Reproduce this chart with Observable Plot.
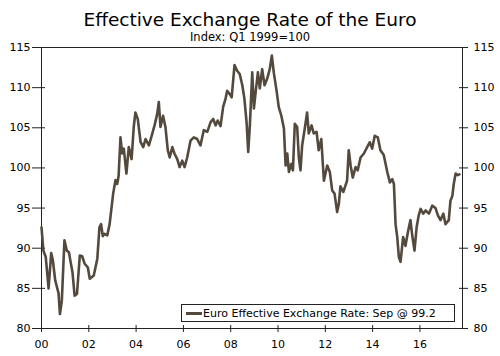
<!DOCTYPE html>
<html>
<head>
<meta charset="utf-8">
<script src="https://cdn.jsdelivr.net/npm/d3@7"></script>
<script src="https://cdn.jsdelivr.net/npm/@observablehq/plot@0.6"></script>
<style>
  html, body { margin: 0; padding: 0; background: #fff; }
  #wrap { position: relative; width: 500px; height: 356px; font-family: "DejaVu Sans", Verdana, sans-serif; color: #000; }
  #head { height: 40px; text-align: center; overflow: visible; }
  #title { font-size: 18.5px; line-height: 18.5px; padding-top: 11px; }
  #subtitle { font-size: 11.5px; line-height: 11.5px; margin-top: 2px; }
  #chart svg { background: transparent; }
  #legend { position: absolute; left: 181px; top: 304px; width: 272px; height: 16px; border: 1px solid #222; background: #fff;
            display: flex; align-items: center; font-size: 11px; white-space: nowrap; }
  #legend .sw { display: inline-block; width: 16px; height: 3px; margin-left: 4px; margin-right: 1px; }
</style>
</head>
<body>
<div id="wrap">
  <div id="head"><div id="title"></div><div id="subtitle"></div></div>
  <div id="chart"></div>
  <div id="legend"><span class="sw"></span><span class="lt"></span></div>
</div>
<script>
const titleText = "Effective Exchange Rate of the Euro";
const subtitleText = "Index: Q1 1999=100";
const seriesName = "Euro Effective Exchange Rate: Sep @ 99.2";
const lineColor = "#54493d";

const years = [2000.00,2000.08,2000.18,2000.30,2000.41,2000.48,2000.58,2000.72,2000.78,2000.86,
2000.97,2001.07,2001.16,2001.23,2001.31,2001.40,2001.50,2001.62,2001.72,2001.82,
2001.96,2002.04,2002.21,2002.36,2002.45,2002.52,2002.59,2002.66,2002.78,2002.88,
2003.03,2003.13,2003.20,2003.26,2003.34,2003.41,2003.48,2003.59,2003.69,2003.81,
2003.90,2003.97,2004.07,2004.19,2004.30,2004.40,2004.54,2004.64,2004.78,2004.89,
2004.96,2005.03,2005.14,2005.24,2005.34,2005.42,2005.53,2005.62,2005.74,2005.84,
2005.95,2006.05,2006.16,2006.30,2006.44,2006.58,2006.72,2006.86,2007.01,2007.15,
2007.26,2007.36,2007.45,2007.57,2007.68,2007.78,2007.85,2007.96,2008.04,2008.11,
2008.16,2008.27,2008.38,2008.49,2008.58,2008.67,2008.74,2008.81,2008.91,2008.98,
2009.06,2009.15,2009.23,2009.33,2009.43,2009.54,2009.65,2009.74,2009.82,2009.94,
2010.03,2010.14,2010.25,2010.32,2010.39,2010.46,2010.56,2010.63,2010.71,2010.81,
2010.88,2010.95,2011.02,2011.12,2011.23,2011.30,2011.42,2011.51,2011.63,2011.72,
2011.83,2011.94,2012.08,2012.19,2012.29,2012.39,2012.50,2012.57,2012.64,2012.76,
2012.85,2012.92,2012.99,2013.07,2013.16,2013.28,2013.37,2013.49,2013.63,2013.77,
2013.88,2013.98,2014.09,2014.22,2014.33,2014.47,2014.62,2014.73,2014.83,2014.90,
2014.97,2015.04,2015.11,2015.18,2015.29,2015.39,2015.49,2015.60,2015.67,2015.77,
2015.86,2015.95,2016.03,2016.14,2016.24,2016.38,2016.52,2016.66,2016.76,2016.87,
2016.99,2017.08,2017.22,2017.29,2017.37,2017.43,2017.51,2017.60,2017.67];

const values = [92.6,89.7,88.9,85.0,89.4,88.5,86.0,84.4,81.8,83.5,
91.0,89.7,89.5,88.3,87.0,84.1,84.3,89.1,89.0,88.1,
87.6,86.2,86.6,88.7,92.6,93.0,91.5,91.8,91.6,93.0,
96.8,98.5,98.0,99.0,103.8,101.8,102.4,99.3,102.6,101.1,
105.1,106.9,106.1,103.2,102.6,103.6,102.8,103.8,105.3,106.7,
108.2,105.1,106.5,105.1,102.2,101.3,102.6,101.8,101.1,100.1,
100.9,100.1,101.3,103.4,103.8,103.6,102.8,104.7,104.5,105.7,
106.1,105.3,105.9,105.2,107.6,108.6,109.6,109.2,108.8,111.1,
112.8,112.1,111.7,110.3,108.6,105.7,102.0,105.3,111.9,107.4,
109.6,111.9,109.9,112.3,110.3,111.1,112.3,114.0,111.9,109.6,
107.6,106.5,104.9,100.3,101.8,99.5,100.5,99.7,105.5,105.1,
101.3,99.7,102.8,104.7,106.9,104.3,105.3,104.3,104.5,102.2,
103.6,98.4,100.3,99.5,97.2,96.8,94.5,95.5,97.7,97.0,
97.8,98.4,102.2,100.3,98.8,100.1,99.7,101.3,101.8,102.6,
103.2,102.4,104.0,103.8,102.2,101.6,99.5,98.2,98.6,98.0,
93.0,91.4,88.9,88.3,91.4,90.3,92.0,93.5,91.7,89.7,
92.6,94.1,94.9,94.3,94.7,94.3,95.3,95.0,94.1,93.5,
94.3,93.0,93.5,95.9,96.5,98.0,99.3,99.1,99.2];

const xTicks = [2000, 2002, 2004, 2006, 2008, 2010, 2012, 2014, 2016];
const yTicks = [80, 85, 90, 95, 100, 105, 110, 115];

const data = years.map((t, i) => ({t, v: values[i]}));

document.getElementById("title").textContent = titleText;
document.getElementById("subtitle").textContent = subtitleText;
document.querySelector("#legend .lt").textContent = seriesName;
document.querySelector("#legend .sw").style.background = lineColor;

const axisColor = "#222";
const chart = Plot.plot({
  width: 500,
  height: 316,
  marginLeft: 41,
  marginRight: 38,
  marginTop: 7,
  marginBottom: 28,
  style: {fontFamily: "DejaVu Sans, Verdana, sans-serif", fontSize: "11px", color: "#000", background: "transparent"},
  x: {domain: [2000, 2017.8]},
  y: {domain: [80, 115]},
  marks: [
    Plot.frame({stroke: axisColor, strokeWidth: 1}),
    Plot.axisY(yTicks, {anchor: "left", tickSize: 13, dx: 4, tickPadding: 2, label: null, stroke: axisColor, fill: "#000"}),
    Plot.axisY(yTicks, {anchor: "right", tickSize: 9, dx: -4, tickPadding: 6, label: null, stroke: axisColor, fill: "#000"}),
    Plot.axisX(xTicks, {anchor: "bottom", tickSize: 7, dy: -3, tickPadding: 8, label: null, stroke: axisColor, fill: "#000",
      tickFormat: d => String(d % 100).padStart(2, "0")}),
    Plot.line(data, {x: "t", y: "v", stroke: lineColor, strokeWidth: 2.6, strokeLinejoin: "round"})
  ]
});
document.getElementById("chart").appendChild(chart);
</script>
</body>
</html>
